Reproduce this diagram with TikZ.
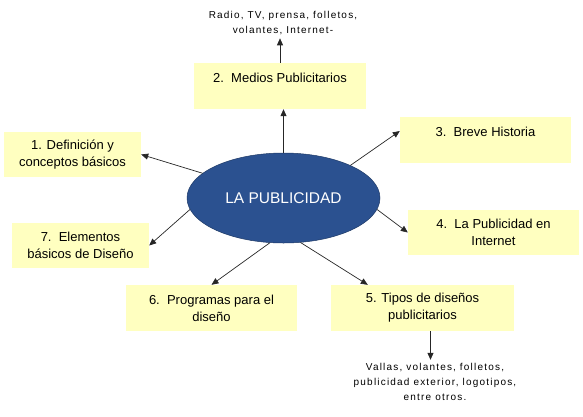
\documentclass[tikz,border=0pt]{standalone}
\usepackage{fontspec}
\setmainfont{Liberation Sans}
\newfontfamily\notefont[LetterSpace=12]{Liberation Sans}
\usetikzlibrary{arrows.meta,shapes.geometric}
\definecolor{boxyellow}{HTML}{FFFFC0}
\definecolor{hubblue}{HTML}{2B5190}
\definecolor{hubedge}{HTML}{1F3A66}

\begin{document}
\begin{tikzpicture}[x=1pt,y=-1pt,
  every node/.style={font=\fontsize{13}{17}\selectfont},
  box/.style={fill=boxyellow,align=center,inner sep=0pt},
  oneline/.style={text height=10pt,text depth=18pt},
  hub/.style={ellipse,fill=hubblue,draw=hubedge,line width=.5pt,text=white,inner sep=0pt,
    minimum width=193pt,minimum height=90pt,font=\fontsize{15.5}{17}\selectfont},
  note/.style={align=center,font=\notefont\fontsize{10}{15}\selectfont},
  link/.style={draw=black!85,line width=.7pt,-{Triangle[length=7pt,width=6pt]}}]
\useasboundingbox (0,0) rectangle (583,416);
% boxes round the hub
\node[box,oneline,minimum width=172pt,minimum height=46pt] (b2) at (280,86) {2.\ \ Medios Publicitarios};
\node[box,minimum width=137pt,minimum height=45pt] (b1) at (72.5,154.5) {1. Definición y\\conceptos básicos};
\node[box,minimum width=137pt,minimum height=45pt] (b7) at (80.5,245.5) {7.\ \ Elementos\\básicos de Diseño};
\node[box,oneline,minimum width=171pt,minimum height=46pt] (b3) at (485.5,140) {3.\ \ Breve Historia};
\node[box,minimum width=171pt,minimum height=45pt] (b4) at (493.5,232.5) {4.\ \ La Publicidad en\\Internet};
\node[box,minimum width=171pt,minimum height=46pt] (b6) at (211.5,308) {6.\ \ Programas para el\\diseño};
\node[box,minimum width=183pt,minimum height=46pt] (b5) at (422.5,308) {5. Tipos de diseños\\publicitarios};
\node[hub] (pub) at (283.5,198) {LA PUBLICIDAD};
% notes
\node[note] (medios) at (283,23) {Radio, TV, prensa, folletos,\\volantes, Internet-};
\node[note] (tipos) at (435,382) {Vallas, volantes, folletos,\\publicidad exterior, logotipos,\\entre otros.};
% connectors
\draw[link] (pub.north) -- (pub.north |- b2.south);
\draw[link] (b2.north) -- (b2.north |- medios.south);
\draw[link] (pub.163.5) -- (b1.east);
\draw[link] (pub.187) -- (b7.east);
\draw[link] (pub.253) -- (b6.north);
\draw[link] (pub.291) -- ([xshift=37pt]b5.north west);
\draw[link] (pub.26) -- ([yshift=9pt]b3.west);
\draw[link] (pub.353.4) -- (b4.west);
\draw[link] ([xshift=8pt]b5.south) -- ([xshift=8pt]b5.south |- tipos.north);
\end{tikzpicture}
\end{document}
